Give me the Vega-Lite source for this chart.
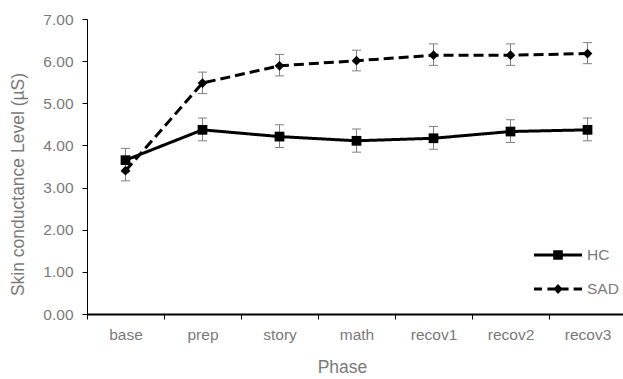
{
  "$schema": "https://vega.github.io/schema/vega-lite/v6.json",
  "width": 539,
  "height": 295,
  "autosize": {"type": "none"},
  "padding": {"left": 87, "top": 19, "right": 0, "bottom": 65},
  "background": "white",
  "config": {"view": {"stroke": null}, "font": "Liberation Sans"},
  "data": {
    "values": [
      {"phase": "base", "group": "HC", "mean": 3.65, "lo": 3.37, "hi": 3.93},
      {"phase": "prep", "group": "HC", "mean": 4.37, "lo": 4.11, "hi": 4.65},
      {"phase": "story", "group": "HC", "mean": 4.21, "lo": 3.95, "hi": 4.49},
      {"phase": "math", "group": "HC", "mean": 4.11, "lo": 3.84, "hi": 4.39},
      {"phase": "recov1", "group": "HC", "mean": 4.17, "lo": 3.91, "hi": 4.45},
      {"phase": "recov2", "group": "HC", "mean": 4.33, "lo": 4.07, "hi": 4.61},
      {"phase": "recov3", "group": "HC", "mean": 4.37, "lo": 4.11, "hi": 4.65},
      {"phase": "base", "group": "SAD", "mean": 3.4, "lo": 3.16, "hi": 3.65},
      {"phase": "prep", "group": "SAD", "mean": 5.48, "lo": 5.23, "hi": 5.74},
      {"phase": "story", "group": "SAD", "mean": 5.89, "lo": 5.65, "hi": 6.16},
      {"phase": "math", "group": "SAD", "mean": 6.01, "lo": 5.77, "hi": 6.26},
      {"phase": "recov1", "group": "SAD", "mean": 6.14, "lo": 5.9, "hi": 6.41},
      {"phase": "recov2", "group": "SAD", "mean": 6.14, "lo": 5.9, "hi": 6.41},
      {"phase": "recov3", "group": "SAD", "mean": 6.18, "lo": 5.94, "hi": 6.44}
    ]
  },
  "encoding": {
    "x": {
      "field": "phase",
      "type": "nominal",
      "sort": ["base", "prep", "story", "math", "recov1", "recov2", "recov3"],
      "scale": {"paddingInner": 0, "paddingOuter": 0},
      "axis": {
        "title": "Phase",
        "labelAngle": 0,
        "labelFontSize": 15.5,
        "labelColor": "#7a7a7a",
        "labelBaseline": "alphabetic",
        "labelPadding": 20,
        "tickBand": "extent",
        "tickSize": 5,
        "tickColor": "black",
        "tickWidth": 1,
        "domainColor": "black",
        "domainWidth": 2,
        "titleFontSize": 17.5,
        "titleFontWeight": "normal",
        "titleColor": "#7a7a7a",
        "titleX": 255,
        "titleY": 58,
        "titleBaseline": "alphabetic",
        "titleAlign": "center"
      }
    }
  },
  "layer": [
    {
      "mark": {"type": "rule", "color": "#808080", "strokeWidth": 1},
      "encoding": {
        "y": {
          "field": "lo",
          "type": "quantitative",
          "scale": {"domain": [0, 7], "nice": false},
          "axis": {
            "title": "Skin conductance Level (µS)",
            "values": [0, 1, 2, 3, 4, 5, 6, 7],
            "format": ".2f",
            "grid": false,
            "labelFontSize": 15.5,
            "labelColor": "#7a7a7a",
            "labelPadding": 9,
            "tickSize": 5,
            "tickColor": "black",
            "domainColor": "black",
            "domainWidth": 1,
            "titleFontSize": 17.5,
            "titleFontWeight": "normal",
            "titleColor": "#7a7a7a",
            "titleX": -64,
            "titleY": 165,
            "titleAngle": 270,
            "titleBaseline": "alphabetic",
            "titleAlign": "center"
          }
        },
        "y2": {"field": "hi"}
      }
    },
    {
      "mark": {"type": "tick", "color": "#808080", "thickness": 1, "size": 9, "opacity": 1},
      "encoding": {"y": {"field": "lo", "type": "quantitative"}}
    },
    {
      "mark": {"type": "tick", "color": "#808080", "thickness": 1, "size": 9, "opacity": 1},
      "encoding": {"y": {"field": "hi", "type": "quantitative"}}
    },
    {
      "mark": {"type": "line", "color": "black", "strokeWidth": 3},
      "encoding": {
        "y": {"field": "mean", "type": "quantitative"},
        "detail": {"field": "group", "type": "nominal"},
        "strokeDash": {
          "condition": {"test": "datum.group === 'SAD'", "value": [10, 5]},
          "value": [1, 0]
        }
      }
    },
    {
      "mark": {"type": "point", "filled": true, "color": "black", "opacity": 1, "size": 95},
      "encoding": {
        "y": {"field": "mean", "type": "quantitative"},
        "shape": {
          "condition": {"test": "datum.group === 'SAD'", "value": "diamond"},
          "value": "square"
        }
      }
    },
    {
      "mark": {"type": "point", "filled": true, "color": "black", "opacity": 0, "size": 2304},
      "encoding": {
        "y": {"field": "mean", "type": "quantitative"},
        "shape": {
          "field": "group",
          "type": "nominal",
          "scale": {
            "domain": ["HC", "SAD"],
            "range": [
              "M-1,-0.0625H1V0.0625H-1Z M-0.2,-0.2H0.2V0.2H-0.2Z",
              "M-1,-0.0625H-0.67V0.0625H-1Z M-0.44,-0.0625H0.44V0.0625H-0.44Z M0.65,-0.0625H1V0.0625H0.65Z M0,-0.21L0.19,0L0,0.21L-0.19,0Z"
            ]
          },
          "legend": {
            "title": null,
            "orient": "none",
            "legendX": 446,
            "legendY": 211,
            "symbolSize": 2304,
            "labelFontSize": 15.5,
            "labelColor": "#7a7a7a",
            "labelOffset": 4,
            "rowPadding": -19,
            "encode": {
              "symbols": {
                "update": {
                  "fill": {"value": "black"},
                  "stroke": {"value": "transparent"},
                  "strokeWidth": {"value": 0},
                  "opacity": {"value": 1},
                  "size": {"value": 2304}
                }
              }
            }
          }
        }
      }
    }
  ]
}
